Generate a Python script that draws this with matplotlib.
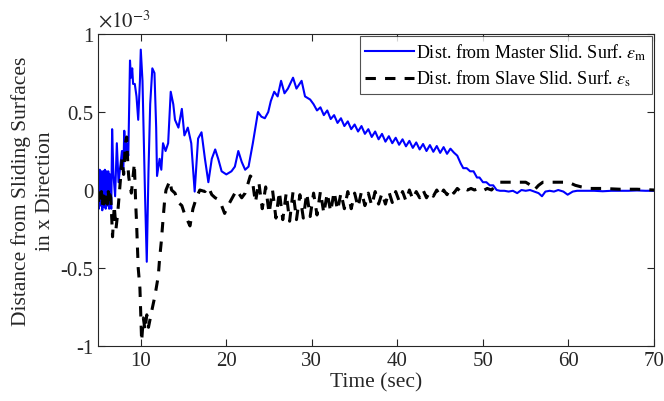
import numpy as np
import matplotlib
matplotlib.use('Agg')
import matplotlib.pyplot as plt

plt.rcParams['font.family'] = ['Liberation Serif', 'DejaVu Serif']
plt.rcParams['mathtext.fontset'] = 'stix'
plt.rcParams['axes.unicode_minus'] = False

# Valores (desplazamiento en unidades de 1e-3)
t_master = [5.0, 5.1, 5.2, 5.3, 5.4, 5.5, 5.6, 5.7, 5.8, 5.9, 6.0, 6.1, 6.2, 6.3, 6.4, 6.5,
            6.55, 6.65, 6.8, 7.0, 7.2, 7.4, 7.6, 7.8, 7.95, 8.07, 8.2, 8.35, 8.54, 8.74, 8.85,
            9.0, 9.1, 9.3, 9.5, 9.7, 9.9, 10.0, 10.2, 10.5, 10.7, 10.9, 11.1, 11.35, 11.6,
            11.8, 11.9, 12.2, 12.4, 12.6, 12.9, 13.2, 13.5, 13.8, 14.0, 14.4, 14.8, 15.1,
            15.5, 15.9, 16.3, 16.7, 17.1, 17.5, 17.9, 18.3, 18.7, 19.05, 19.45, 20.0, 20.6,
            21.0, 21.4, 21.8, 22.2, 22.6, 23.1, 23.7, 24.1, 24.5, 24.9, 25.2, 25.6, 26.0,
            26.4, 26.8, 27.2, 27.8, 28.2, 28.8, 29.2, 29.8, 30.2, 30.6, 31.0, 31.4, 31.8,
            32.2, 32.6, 33.0, 33.4, 33.8, 34.2, 34.6, 35.0, 35.4, 35.8, 36.2, 36.6, 37.0,
            37.4, 37.8, 38.2, 38.6, 39.0, 39.4, 39.8, 40.2, 40.6, 41.0, 41.4, 41.8, 42.2,
            42.6, 43.0, 43.4, 43.8, 44.2, 44.6, 45.0, 45.4, 45.8, 46.2, 46.6, 47.0, 47.4,
            47.7, 48.1, 48.5, 48.9, 49.3, 49.6, 50.0, 50.4, 50.8, 51.2, 51.6, 52.0, 52.5,
            53.0, 53.5, 54.0, 54.5, 55.0, 55.5, 56.0, 56.5, 56.9, 57.3, 57.8, 58.3, 58.8,
            59.4, 59.9, 60.5, 61.0, 62.0, 63.0, 64.0, 65.0, 66.0, 67.0, 68.0, 69.0, 70.0]
eps_master = [0.12, -0.12, 0.13, -0.10, 0.12, -0.13, 0.12, -0.11, 0.13, -0.12, 0.12, -0.10,
              0.12, -0.12, 0.10, -0.08, -0.12, 0.39, 0.10, -0.04, 0.30, 0.05, 0.15, 0.25,
              0.10, 0.38, 0.22, 0.30, 0.22, 0.83, 0.72, 0.78, 0.68, 0.68, 0.60, 0.45, 0.70,
              0.90, 0.70, -0.04, -0.46, 0.12, 0.55, 0.78, 0.75, 0.40, 0.09, 0.20, 0.13, 0.30,
              0.25, 0.30, 0.63, 0.55, 0.45, 0.40, 0.52, 0.35, 0.40, 0.30, -0.01, 0.33, 0.37,
              0.20, 0.05, 0.20, 0.26, 0.20, 0.12, 0.10, 0.12, 0.15, 0.25, 0.18, 0.13, 0.15,
              0.30, 0.50, 0.47, 0.46, 0.50, 0.57, 0.63, 0.60, 0.70, 0.62, 0.65, 0.72, 0.65,
              0.70, 0.60, 0.58, 0.55, 0.51, 0.53, 0.48, 0.51, 0.455, 0.48, 0.43, 0.46, 0.41,
              0.44, 0.39, 0.42, 0.375, 0.41, 0.36, 0.39, 0.34, 0.375, 0.325, 0.36, 0.31,
              0.345, 0.30, 0.335, 0.29, 0.325, 0.28, 0.315, 0.27, 0.305, 0.26, 0.295, 0.25,
              0.288, 0.245, 0.282, 0.238, 0.275, 0.232, 0.265, 0.24, 0.22, 0.17, 0.14, 0.14,
              0.12, 0.12, 0.08, 0.08, 0.05, 0.05, 0.03, 0.03, 0.0, -0.005, -0.005, -0.01,
              -0.005, -0.02, 0.0, -0.005, 0.0, -0.01, -0.02, -0.04, -0.01, -0.005, -0.01, 0.0,
              -0.01, -0.03, -0.01, -0.005, -0.005, -0.005, -0.008, -0.005, -0.005, -0.005,
              -0.003, -0.005, -0.005]

t_slave = [5.0, 5.1, 5.2, 5.3, 5.4, 5.5, 5.6, 5.7, 5.8, 5.9, 6.0, 6.1, 6.2, 6.3, 6.4, 6.5,
           6.7, 6.9, 7.1, 7.3, 7.6, 7.8, 8.0, 8.2, 8.35, 8.5, 8.6, 8.9, 9.25, 9.4, 9.5, 9.7,
           9.9, 10.1, 10.3, 10.5, 10.7, 10.9, 11.3, 11.65, 12.05, 12.2, 12.4, 12.6, 12.8,
           12.95, 13.4, 13.6, 14.0, 14.4, 14.8, 15.1, 15.75, 16.1, 16.5, 16.9, 17.5, 17.9,
           18.3, 18.7, 19.05, 19.45, 19.8, 20.2, 20.6, 21.2, 21.8, 22.2, 22.8, 23.0, 23.4,
           23.8, 24.2, 24.6, 25.0, 25.4, 25.8, 26.2, 26.6, 27.0, 27.4, 27.8, 28.2, 28.6,
           29.0, 29.4, 29.8, 30.2, 30.6, 31.0, 31.4, 31.8, 32.2, 32.6, 33.0, 33.4, 33.8,
           34.2, 34.6, 35.0, 35.4, 35.8, 36.2, 36.6, 37.0, 37.4, 37.8, 38.2, 38.6, 39.0,
           39.4, 39.8, 40.2, 40.6, 41.0, 41.4, 41.8, 42.2, 42.6, 43.0, 43.4, 43.8, 44.2,
           44.6, 45.0, 45.4, 45.8, 46.2, 46.6, 47.0, 47.4, 47.8, 48.2, 48.6, 49.0, 49.5,
           50.0, 50.5, 51.0, 51.5, 52.0, 53.0, 54.0, 55.0, 55.6, 56.0, 56.5, 57.0, 58.0,
           59.0, 60.0, 60.8, 61.5, 62.5, 64.0, 66.0, 68.0, 70.0]
eps_slave = [-0.01, -0.09, -0.02, -0.08, -0.01, -0.10, -0.02, -0.09, -0.01, -0.08, -0.02,
             -0.09, -0.01, -0.08, -0.03, -0.05, -0.30, -0.10, -0.25, -0.15, 0.05, 0.20, 0.10,
             0.30, 0.34, 0.15, 0.08, -0.02, 0.17, -0.08, -0.20, -0.50, -0.63, -0.97, -0.82,
             -0.90, -0.80, -0.88, -0.77, -0.68, -0.55, -0.44, -0.33, -0.19, -0.06, 0.0,
             0.06, 0.0, -0.02, -0.08, -0.10, -0.15, -0.23, -0.12, -0.05, 0.0, -0.01, 0.02,
             -0.03, -0.05, -0.06, -0.10, -0.15, -0.10, -0.06, 0.0, -0.05, -0.02, 0.09, 0.08,
             -0.08, 0.05, -0.12, 0.02, -0.15, 0.0, -0.18, -0.01, -0.19, -0.02, -0.20, -0.01,
             -0.19, -0.03, -0.18, -0.02, -0.17, -0.02, -0.16, -0.01, -0.15, -0.02, -0.14,
             -0.01, -0.13, -0.02, -0.12, -0.01, -0.12, -0.02, -0.11, -0.01, -0.10, -0.02,
             -0.10, -0.01, -0.09, -0.02, -0.09, -0.01, -0.08, -0.01, -0.07, -0.01, -0.07,
             0.0, -0.06, -0.01, -0.05, 0.0, -0.05, -0.01, -0.04, 0.0, -0.04, 0.0, -0.03,
             0.01, -0.02, 0.01, -0.01, 0.01, 0.0, 0.01, 0.0, 0.01, -0.005, 0.01, 0.0, 0.03,
             0.05, 0.05, 0.05, 0.05, 0.03, 0.0, 0.03, 0.05, 0.05, 0.05, 0.05, 0.03, 0.02,
             0.01, 0.01, 0.005, 0.005, 0.0]

xticks = [10, 20, 30, 40, 50, 60, 70]
yticks = [-1, -0.5, 0, 0.5, 1]
ytick_labels = ['-1', '-0.5', '0', '0.5', '1']

fig = plt.figure(figsize=(6.64, 4.02), dpi=100)
ax = fig.add_axes([0.1476, 0.1368, 0.8374, 0.7761])

ax.plot(t_master, eps_master, color='#0000ff', lw=1.5,
        label=r'Dist. from Master Slid. Surf. $\epsilon_{\rm m}$')
ax.plot(t_slave, eps_slave, color='black', lw=2.2, linestyle=(0, (3.4, 3.0)),
        label=r'Dist. from Slave Slid. Surf. $\epsilon_{\rm s}$')

ax.set_xlim(5, 70)
ax.set_ylim(-1, 1)
ax.set_xticks(xticks)
ax.set_yticks(yticks)
ax.set_yticklabels(ytick_labels)
ax.tick_params(direction='in', top=True, right=True, labelsize=15, length=5,
               color='#262626', labelcolor='#262626')
for s in ax.spines.values():
    s.set_color('#262626')
    s.set_linewidth(0.8)

ax.set_xlabel('Time (sec)', fontsize=15.5, color='#262626', labelpad=2)
ax.set_ylabel('Distance from Sliding Surfaces\nin x Direction', fontsize=15.5,
              color='#262626', labelpad=4, linespacing=1.3)
ax.text(0.0, 1.01, r'$\times10^{-3}$', transform=ax.transAxes, fontsize=15,
        color='#262626', ha='left', va='bottom')

leg = ax.legend(loc='upper right', fontsize=13, frameon=True, fancybox=False,
                borderaxespad=0.1, handlelength=2.7, handletextpad=0.1,
                labelspacing=0.35, borderpad=0.3)
leg.get_frame().set_edgecolor('#262626')
leg.get_frame().set_linewidth(0.8)

plt.savefig('out.png', dpi=100)
